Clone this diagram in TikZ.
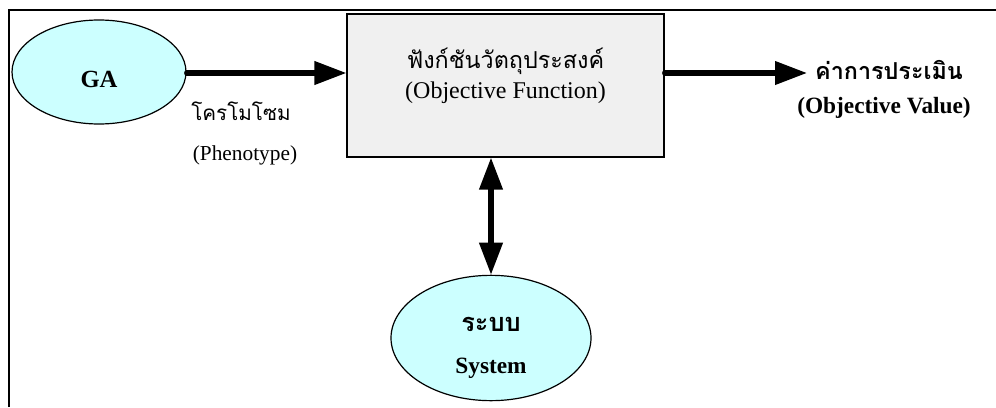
\documentclass[tikz,border=0pt]{standalone}
\usepackage{fontspec}
\setmainfont{Liberation Serif}
\newfontfamily\thaifont[Script=Thai]{Loma}
\usetikzlibrary{arrows.meta,shapes.geometric}
\definecolor{nodecyan}{HTML}{CCFFFF}
\definecolor{boxgray}{HTML}{F0F0F0}
\tikzset{
  oval/.style={ellipse, draw=black, line width=0.9pt, fill=nodecyan, inner sep=0pt},
  funcbox/.style={rectangle, draw=black, line width=0.9pt, fill=boxgray, inner sep=0pt},
  bigarrow/.style={line width=3.8pt, line cap=round,
    -{Triangle[length=24pt,width=17pt]}},
  twoway/.style={line width=3.8pt,
    {Triangle[length=24pt,width=17pt]}-{Triangle[length=24pt,width=17pt]}},
  en/.style={font=\fontsize{18}{20}\selectfont, inner sep=0pt},
  ensmall/.style={font=\fontsize{16}{20}\selectfont, inner sep=0pt},
  enb/.style={font=\fontsize{17.5}{20}\selectfont\bfseries, inner sep=0pt},
  th/.style={font=\thaifont\fontsize{17.5}{20}\selectfont, inner sep=0pt},
  thsmall/.style={font=\thaifont\fontsize{15.5}{18}\selectfont, inner sep=0pt},
  thb/.style={font=\thaifont\fontsize{17.5}{20}\selectfont\bfseries, inner sep=0pt},
  thbig/.style={font=\thaifont\fontsize{19}{22}\selectfont\bfseries, inner sep=0pt},
}
\begin{document}
\begin{tikzpicture}[x=0.75pt,y=-0.75pt]
\useasboundingbox (0,0) rectangle (996,407);
% frame edges
\draw[line width=2pt] (9,407) -- (9,10) -- (996,10);

% nodes
\node[oval, minimum width=130.5pt, minimum height=78pt] (ga) at (99,72) {};
\node[enb, font=\fontsize{18.5}{20}\selectfont\bfseries] (galabel) at (99,79) {GA};

\node[funcbox, minimum width=237.75pt, minimum height=107.25pt] (func) at (505.5,85.5) {};
\node[th] (functh) at (505.5,61) {ฟังก์ชันวัตถุประสงค์};
\node[en] (funcen) at (505.5,93) {(Objective Function)};

\node[oval, minimum width=150pt, minimum height=94pt] (sys) at (491,338) {};
\node[thbig] (systh) at (491,324) {ระบบ};
\node[enb] (sysen) at (491,368) {System};

\node[thb] (valth) at (889,70) {ค่าการประเมิน};
\node[enb] (valen) at (884,108) {(Objective Value)};
\coordinate (valin) at (807,73);

\node[thsmall] (chromth) at (241,111) {โครโมโซม};
\node[ensmall] (chromen) at (245,155) {(Phenotype)};

% connectors
\draw[bigarrow] (ga.east |- 0,73) -- (func.west |- 0,73);
\draw[bigarrow] (func.east |- 0,73) -- (valin);
\draw[twoway] (func.south -| sys.north) -- (sys.north);
\end{tikzpicture}
\end{document}
